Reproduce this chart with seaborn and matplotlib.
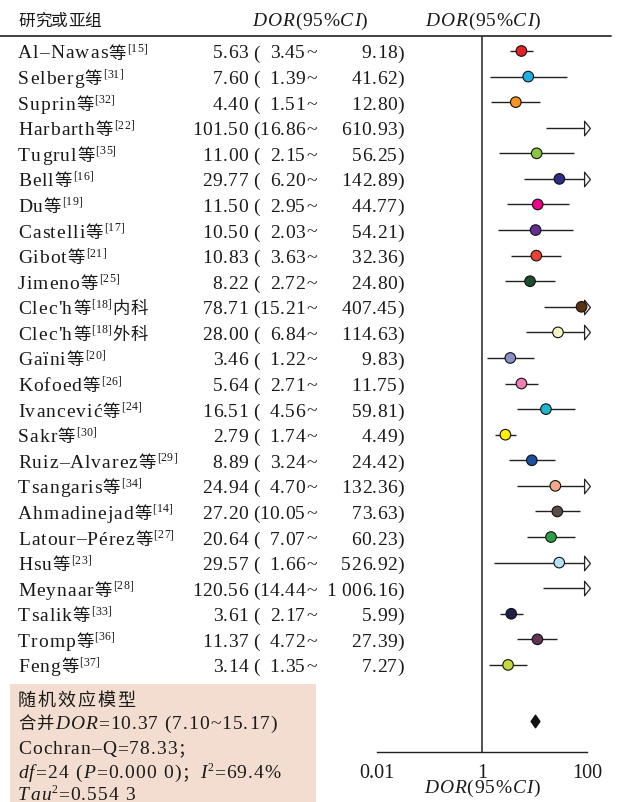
import matplotlib
matplotlib.use("Agg")
import matplotlib.pyplot as plt
import seaborn as sns
import pandas as pd
from matplotlib import font_manager as fm
from matplotlib.ft2font import FT2Font
from matplotlib.path import Path
from matplotlib.lines import Line2D
from matplotlib.patches import Rectangle
from matplotlib.ticker import NullLocator

try:
    from matplotlib.ft2font import LoadFlags
    NOHINT = LoadFlags.NO_HINTING
except ImportError:  # older matplotlib
    from matplotlib.ft2font import LOAD_NO_HINTING as NOHINT

# ---------------- data ----------------
studies = ["Al–Nawas", "Selberg", "Suprin", "Harbarth", "Tugrul", "Bell", "Du",
           "Castelli", "Gibot", "Jimeno", "Clec'h", "Clec'h", "Gaïni", "Kofoed",
           "Ivancević", "Sakr", "Ruiz–Alvarez", "Tsangaris", "Ahmadinejad",
           "Latour–Pérez", "Hsu", "Meynaar", "Tsalik", "Tromp", "Feng"]
refs = ["15", "31", "32", "22", "35", "16", "19", "17", "21", "25", "18", "18",
        "20", "26", "24", "30", "29", "34", "14", "27", "23", "28", "33", "36", "37"]
suffixes = ["", "", "", "", "", "", "", "", "", "", "内科", "外科", "", "", "", "",
            "", "", "", "", "", "", "", "", ""]
dor = [5.63, 7.60, 4.40, 101.50, 11.00, 29.77, 11.50, 10.50, 10.83, 8.22, 78.71,
       28.00, 3.46, 5.64, 16.51, 2.79, 8.89, 24.94, 27.20, 20.64, 29.57, 120.56,
       3.61, 11.37, 3.14]
ci_low = [3.45, 1.39, 1.51, 16.86, 2.15, 6.20, 2.95, 2.03, 3.63, 2.72, 15.21, 6.84,
          1.22, 2.71, 4.56, 1.74, 3.24, 4.70, 10.05, 7.07, 1.66, 14.44, 2.17, 4.72, 1.35]
ci_high = [9.18, 41.62, 12.80, 610.93, 56.25, 142.89, 44.77, 54.21, 32.36, 24.80,
           407.45, 114.63, 9.83, 11.75, 59.81, 4.49, 24.42, 132.36, 73.63, 60.23,
           526.92, 1006.16, 5.99, 27.39, 7.27]
point_colors = ["#e8202a", "#1eaee8", "#f7941d", "#888888", "#8dc63f", "#2b2e83",
                "#ec008c", "#662d91", "#ef4136", "#1b4d2e", "#5c3311", "#f4f7c5",
                "#8890c8", "#f27eb2", "#1fb5cc", "#fff200", "#1d4f9e", "#f6a98a",
                "#5e4b44", "#2f9e47", "#b5e1f5", "#888888", "#201f4a", "#5e3552",
                "#c5d83f"]
pooled_dor, pooled_low, pooled_high = 10.37, 7.10, 15.17
cochran_q, df_val, p_val, i2, tau2 = "78.33", "24", "0.000 0", "69.4%", "0.554 3"
x_ticks = [0.01, 1, 100]
x_tick_labels = ["0.01", "1", "100"]
x_max = 100

# ---------------- layout ----------------
W, H = 617, 803
ROW0, STEP = 52.0, 25.58          # pixel centre of first row, row spacing
POOLED_ROW = 26.2
TXT = "#1a1a1a"
FAM = ["Liberation Serif", "Noto Sans CJK SC"]

sns.set_style("white")
plt.rcParams["font.family"] = FAM

fig = plt.figure(figsize=(W / 100, H / 100), dpi=100)

_fonts = {}


def _font(fam, style):
    key = (fam, style)
    if key not in _fonts:
        path = fm.findfont(fm.FontProperties(family=fam, style=style))
        _fonts[key] = FT2Font(path)
    return _fonts[key]


def _pick(c, style):
    for fam in FAM:
        st = style if fam == FAM[0] else "normal"
        f = _font(fam, st)
        if f.get_char_index(ord(c)):
            return fam, st, f
    return FAM[0], style, _font(FAM[0], style)


def rich(x, yb, pieces, ha="left", size=14, cjk=12.5, track=0.0):
    """Draw text pieces glyph by glyph (with letter tracking) from pixel x,
    baseline pixel yb measured from the top of the figure."""
    glyphs = []
    for p in pieces:
        s = p[0]
        st = p[1] if len(p) > 1 else {}
        style = st.get("style", "normal")
        tr = st.get("track", track)
        for c in s:
            fam, fst, f = _pick(c, style)
            sz = st.get("size", cjk if fam != FAM[0] else size)
            f.set_size(sz, 100)
            g = f.load_char(ord(c), flags=NOHINT)
            adv = g.linearHoriAdvance / 65536
            glyphs.append((c, fam, fst, sz, st.get("dy", 0), adv, tr))
    total = sum(g[5] + g[6] for g in glyphs) - (glyphs[-1][6] if glyphs else 0)
    off = {"left": 0.0, "center": -total / 2, "right": -total}[ha]
    cur = x + off
    for c, fam, fst, sz, dy, adv, tr in glyphs:
        if c != " ":
            fig.text(cur / W, 1 - (yb - dy) / H, c, fontsize=sz, family=fam,
                     style=fst, va="baseline", ha="left", color=TXT, zorder=5)
        cur += adv + tr
    return total


def fmt(v):
    return f"{v:,.2f}".replace(",", " ")


IT = {"style": "italic"}
SUP = {"size": 8.5, "dy": 6.5, "track": 0.3}

# background box of the summary block
fig.add_artist(Rectangle((10 / W, 0), 306 / W, (803 - 685) / H,
                         transform=fig.transFigure, facecolor="#f3ddd1",
                         edgecolor="none", zorder=0))

# header
rich(18, 26, [("研究或亚组",)], cjk=12)
dor_hdr = [("DOR", IT), ("(95%",), ("CI", IT), (")",)]
rich(310, 26, dor_hdr, ha="center", track=0.7)
rich(483, 26, dor_hdr, ha="center", track=0.7)
fig.add_artist(Line2D([0, 611 / W], [1 - 36.5 / H] * 2, transform=fig.transFigure,
                      color="#333333", lw=1.3))

# study rows (text)
for i in range(len(studies)):
    yb = ROW0 + i * STEP + 6.5
    pieces = [(studies[i],), ("等",), (f"[{refs[i]}]", SUP)]
    if suffixes[i]:
        pieces.append((suffixes[i],))
    rich(18, yb, pieces, track=1.0)
    rich(248, yb, [(f"{dor[i]:.2f}",)], ha="right", track=0.4)
    rich(253, yb, [("(",)])
    rich(305, yb, [(fmt(ci_low[i]),)], ha="right", track=0.4)
    rich(306, yb, [("~",)])
    rich(397, yb, [(fmt(ci_high[i]),)], ha="right", track=0.4)
    rich(397, yb, [(")",)])

# summary block
rich(18, 706, [("随机效应模型",)], cjk=13, track=1.8)
rich(18, 729, [("合并",), ("DOR", IT),
               (f"={pooled_dor:.2f} ({pooled_low:.2f}~{pooled_high:.2f})",)],
     track=1.0)
rich(18, 754, [(f"Cochran–Q={cochran_q}；",)], track=1.0)
rich(18, 778, [("df", IT), (f"={df_val} (",), ("P", IT), (f"={p_val})；",),
               ("I", IT), ("2", SUP), (f"={i2}",)], track=1.1)
rich(18, 800, [("Tau", IT), ("2", SUP), (f"={tau2}",)], track=1.1)

# ---------------- forest plot axes ----------------
top_px, bot_px = 36.5, 752.5
ax = fig.add_axes([377 / W, 1 - bot_px / H, 210 / W, (bot_px - top_px) / H])
ax.set_facecolor("none")
ax.set_xscale("log")
ax.set_xlim(0.01, 100)
ax.set_ylim((bot_px - ROW0) / STEP, (top_px - ROW0) / STEP)

df = pd.DataFrame({
    "label": [f"{s}{r}{x}" for s, r, x in zip(studies, refs, suffixes)],
    "row": range(len(studies)), "dor": dor, "lo": ci_low, "hi": ci_high,
})
df["hi_clip"] = df["hi"].clip(upper=x_max)
palette = dict(zip(df["label"], point_colors))

ax.axvline(1, color="#333333", lw=1.2, zorder=1)
ax.hlines(df["row"], df["lo"], df["hi_clip"], color="#222222", lw=1.0, zorder=2)

arrow = Path([(-0.4, 1), (0.4, 0), (-0.4, -1), (-0.4, 1)],
             [Path.MOVETO, Path.LINETO, Path.LINETO, Path.CLOSEPOLY])
over = df[df["hi"] > x_max]
ax.plot(over["hi_clip"], over["row"], ls="none", marker=arrow, markersize=10.5,
        markerfacecolor="white", markeredgecolor="#222222", markeredgewidth=0.9,
        clip_on=False, zorder=3)

shown = df[df["dor"] <= x_max]
sns.scatterplot(data=shown, x="dor", y="row", hue="label", palette=palette,
                legend=False, s=58, edgecolor="#111111", linewidth=0.8, ax=ax,
                zorder=4, clip_on=False)

diamond = Path([(0, 1), (0.7, 0), (0, -1), (-0.7, 0), (0, 1)],
               [Path.MOVETO, Path.LINETO, Path.LINETO, Path.LINETO, Path.CLOSEPOLY])
ax.plot([pooled_dor], [POOLED_ROW], ls="none", marker=diamond, markersize=9,
        color="#111111", zorder=4)

for side in ["top", "left", "right"]:
    ax.spines[side].set_visible(False)
ax.spines["bottom"].set_color("#222222")
ax.spines["bottom"].set_linewidth(1.0)
ax.set_yticks([])
ax.set_ylabel("")
ax.set_xlabel("")
ax.set_xticks(x_ticks)
ax.set_xticklabels(x_tick_labels, fontsize=14.5, family=FAM, color=TXT)
ax.xaxis.set_minor_locator(NullLocator())
ax.tick_params(axis="x", direction="in", length=8, width=1.0, pad=8,
               color="#222222")
ax.grid(False)

rich(482, 793, [("DOR", IT), ("(95%",), ("CI", IT), (")",)], ha="center", track=0.9)

fig.savefig("out.png", dpi=100)
